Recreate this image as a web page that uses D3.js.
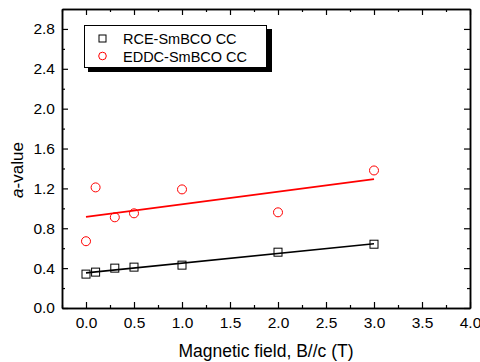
<!DOCTYPE html>
<html>
<head>
<meta charset="utf-8">
<script src="https://cdn.jsdelivr.net/npm/d3@7"></script>
<style>
body { margin: 0; background: #fff; }
text { font-family: Arial, "Liberation Sans", sans-serif; }
</style>
</head>
<body>
<div id="chart"></div>
<script>
var w = 480, h = 362;
var m = {left: 62, right: 10, top: 9, bottom: 54}; // plot box 62..470, 9..308

// data
var field = [0, 0.1, 0.3, 0.5, 1.0, 2.0, 3.0];
var rce = [0.34, 0.36, 0.40, 0.41, 0.43, 0.56, 0.64];
var eddc = [0.67, 1.21, 0.91, 0.95, 1.19, 0.96, 1.38];
var xTicks = [0, 0.5, 1.0, 1.5, 2.0, 2.5, 3.0, 3.5, 4.0];
var yTicks = [0, 0.4, 0.8, 1.2, 1.6, 2.0, 2.4, 2.8];
var seriesNames = ["RCE-SmBCO CC", "EDDC-SmBCO CC"];

var svg = d3.select("#chart").append("svg")
    .attr("width", w).attr("height", h);

var x = d3.scaleLinear().domain([-0.25, 4.0]).range([m.left, w - m.right]);
var y = d3.scaleLinear().domain([0, 3.0]).range([h - m.bottom, m.top]);

var minorX = d3.range(-0.25, 4.01, 0.25).filter(function(d) { return xTicks.indexOf(+d.toFixed(2)) < 0; });
var minorY = d3.range(0.2, 3.0, 0.4);

// least squares fit
function fit(xs, ys) {
  var n = xs.length, mx = d3.mean(xs), my = d3.mean(ys);
  var sxy = 0, sxx = 0;
  for (var i = 0; i < n; i++) { sxy += (xs[i] - mx) * (ys[i] - my); sxx += (xs[i] - mx) * (xs[i] - mx); }
  var b = sxy / sxx;
  return function(v) { return my + b * (v - mx); };
}

var fmt = d3.format(".1f");

// axes, ticks inward
svg.append("g").attr("transform", "translate(0," + y(0) + ")")
  .call(d3.axisBottom(x).tickValues(xTicks).tickFormat(fmt).tickSizeInner(-6).tickSizeOuter(0).tickPadding(9));
svg.append("g").attr("transform", "translate(0," + y(0) + ")")
  .call(d3.axisBottom(x).tickValues(minorX).tickFormat("").tickSizeInner(-3).tickSizeOuter(0));
svg.append("g").attr("transform", "translate(0," + y(3) + ")")
  .call(d3.axisTop(x).tickValues(xTicks).tickFormat("").tickSizeInner(-6).tickSizeOuter(0));
svg.append("g").attr("transform", "translate(0," + y(3) + ")")
  .call(d3.axisTop(x).tickValues(minorX).tickFormat("").tickSizeInner(-3).tickSizeOuter(0));

svg.append("g").attr("transform", "translate(" + x(-0.25) + ",0)")
  .call(d3.axisLeft(y).tickValues(yTicks).tickFormat(fmt).tickSizeInner(-6).tickSizeOuter(0).tickPadding(7));
svg.append("g").attr("transform", "translate(" + x(-0.25) + ",0)")
  .call(d3.axisLeft(y).tickValues(minorY).tickFormat("").tickSizeInner(-3).tickSizeOuter(0));
svg.append("g").attr("transform", "translate(" + x(4) + ",0)")
  .call(d3.axisRight(y).tickValues(yTicks).tickFormat("").tickSizeInner(-6).tickSizeOuter(0));
svg.append("g").attr("transform", "translate(" + x(4) + ",0)")
  .call(d3.axisRight(y).tickValues(minorY).tickFormat("").tickSizeInner(-3).tickSizeOuter(0));

svg.selectAll(".domain").attr("stroke-width", 1.5);
svg.selectAll(".tick line").attr("stroke-width", 1.2);
svg.selectAll(".tick text").attr("font-size", 15.5).attr("fill", "#000");

// fit lines
var fits = [[rce, "#000"], [eddc, "#ff0000"]];
fits.forEach(function(f) {
  var fn = fit(field, f[0]);
  svg.append("line")
    .attr("x1", x(0)).attr("y1", y(fn(0)))
    .attr("x2", x(3)).attr("y2", y(fn(3)))
    .attr("stroke", f[1]).attr("stroke-width", 1.6);
});

// markers
svg.selectAll("rect.rce").data(field).enter().append("rect")
  .attr("class", "rce")
  .attr("x", function(d) { return x(d) - 4; })
  .attr("y", function(d, i) { return y(rce[i]) - 4; })
  .attr("width", 8).attr("height", 8)
  .attr("fill", "none").attr("stroke", "#000").attr("stroke-width", 1);

svg.selectAll("circle.eddc").data(field).enter().append("circle")
  .attr("class", "eddc")
  .attr("cx", function(d) { return x(d); })
  .attr("cy", function(d, i) { return y(eddc[i]); })
  .attr("r", 4.5)
  .attr("fill", "none").attr("stroke", "#ff0000").attr("stroke-width", 1);

// legend with shadow
var lg = svg.append("g");
lg.append("rect").attr("x", 88).attr("y", 29).attr("width", 184).attr("height", 43).attr("fill", "#000");
lg.append("rect").attr("x", 84.5).attr("y", 25.5).attr("width", 182).attr("height", 42)
  .attr("fill", "#fff").attr("stroke", "#000").attr("stroke-width", 1);
lg.append("rect").attr("x", 99).attr("y", 35).attr("width", 7).attr("height", 7)
  .attr("fill", "none").attr("stroke", "#000");
lg.append("circle").attr("cx", 102.5).attr("cy", 56).attr("r", 3.8)
  .attr("fill", "none").attr("stroke", "#ff0000");
lg.selectAll("text.leg").data(seriesNames).enter().append("text")
  .attr("class", "leg")
  .attr("x", 123).attr("y", function(d, i) { return 44 + i * 18; })
  .attr("font-size", 14.5).text(function(d) { return d; });

// axis titles
svg.append("text")
  .attr("x", (x(-0.25) + x(4)) / 2).attr("y", 357)
  .attr("text-anchor", "middle").attr("font-size", 17.5)
  .text("Magnetic field, B//c (T)");

var yt = svg.append("text")
  .attr("transform", "translate(23,170) rotate(-90)")
  .attr("text-anchor", "middle").attr("font-size", 17);
yt.append("tspan").attr("font-style", "italic").text("a");
yt.append("tspan").text("-value");
</script>
</body>
</html>
